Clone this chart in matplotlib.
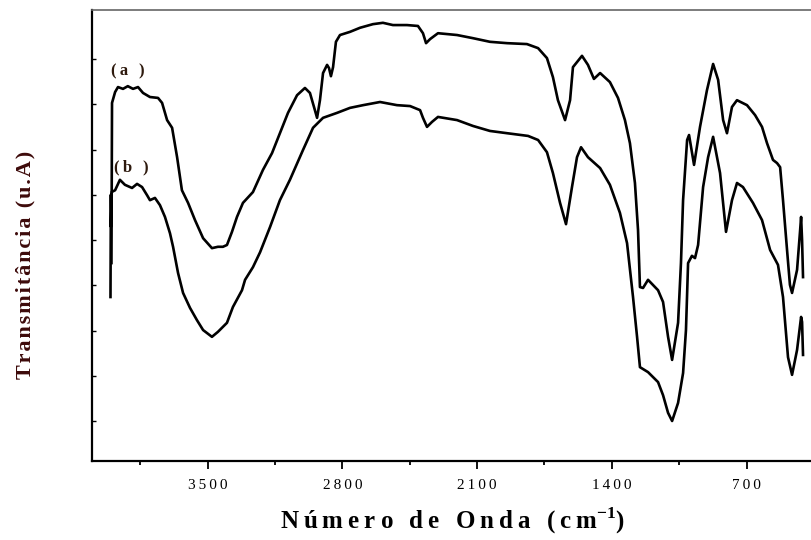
import matplotlib
matplotlib.use("Agg")
import matplotlib.pyplot as plt
from matplotlib.ticker import MultipleLocator, FixedLocator

plt.rcParams['font.family'] = ['Liberation Serif', 'DejaVu Serif']
plt.rcParams['mathtext.fontset'] = 'custom'
plt.rcParams['mathtext.rm'] = 'Liberation Serif'
plt.rcParams['mathtext.bf'] = 'Liberation Serif:bold'

# Spectrum (a): wavenumber (cm-1) and transmittance (u.A)
wn_a = [3999, 3996, 3980, 3965, 3939, 3914, 3887, 3861, 3835, 3799, 3757, 3736,
        3710, 3684, 3658, 3633, 3601, 3565, 3523, 3477, 3446, 3420, 3399, 3373,
        3347, 3316, 3264, 3212, 3165, 3124, 3082, 3035, 2994, 2968, 2947, 2931,
        2916, 2900, 2879, 2869, 2859, 2848, 2833, 2812, 2760, 2708, 2641, 2589,
        2537, 2464, 2407, 2381, 2365, 2344, 2303, 2204, 2121, 2033, 1944, 1841,
        1783, 1737, 1706, 1680, 1643, 1617, 1602, 1555, 1524, 1493, 1461, 1410,
        1368, 1332, 1306, 1280, 1264, 1254, 1238, 1212, 1160, 1134, 1108, 1087,
        1056, 1041, 1030, 1009, 999, 973, 942, 906, 874, 848, 822, 802, 776, 750,
        698, 656, 620, 594, 563, 542, 526, 511, 490, 475, 464, 438, 422, 417,
        412, 407]
tr_a = [3.49, 7.03, 7.27, 7.38, 7.34, 7.40, 7.34, 7.38, 7.25, 7.16, 7.14, 7.03,
        6.65, 6.48, 5.83, 5.10, 4.82, 4.44, 4.04, 3.82, 3.85, 3.85, 3.89, 4.18,
        4.51, 4.82, 5.06, 5.55, 5.92, 6.36, 6.81, 7.20, 7.36, 7.25, 6.94, 6.70,
        7.09, 7.69, 7.87, 7.80, 7.62, 7.82, 8.38, 8.53, 8.60, 8.69, 8.77, 8.80,
        8.75, 8.75, 8.73, 8.57, 8.35, 8.44, 8.57, 8.53, 8.46, 8.38, 8.35, 8.33,
        8.24, 8.02, 7.60, 7.09, 6.65, 7.09, 7.82, 8.07, 7.87, 7.56, 7.69, 7.49,
        7.14, 6.65, 6.14, 5.26, 4.22, 2.96, 2.94, 3.12, 2.89, 2.63, 1.86, 1.35,
        2.17, 3.49, 4.88, 6.21, 6.32, 5.66, 6.50, 7.31, 7.89, 7.54, 6.65, 6.36,
        6.94, 7.09, 6.98, 6.76, 6.50, 6.14, 5.77, 5.70, 5.61, 4.88, 3.78, 3.01,
        2.83, 3.34, 4.22, 4.51, 4.00, 3.18]

# Spectrum (b)
wn_b = [4004, 4002, 4001, 3998, 3980, 3955, 3929, 3892, 3866, 3840, 3814, 3799,
        3773, 3747, 3721, 3695, 3679, 3653, 3627, 3591, 3555, 3523, 3477, 3446,
        3399, 3368, 3321, 3305, 3264, 3227, 3175, 3124, 3072, 3004, 2952, 2900,
        2827, 2760, 2692, 2604, 2516, 2448, 2396, 2381, 2360, 2334, 2303, 2204,
        2121, 2033, 1944, 1835, 1783, 1737, 1706, 1669, 1638, 1607, 1581, 1560,
        1524, 1461, 1410, 1358, 1321, 1290, 1269, 1254, 1212, 1160, 1134, 1108,
        1087, 1056, 1030, 1015, 1004, 984, 968, 952, 926, 900, 874, 838, 807,
        776, 750, 719, 667, 620, 578, 537, 511, 485, 464, 438, 417, 412, 407]
tr_b = [2.74, 5.00, 4.29, 5.06, 5.10, 5.33, 5.22, 5.15, 5.24, 5.17, 4.99, 4.88,
        4.93, 4.77, 4.51, 4.15, 3.85, 3.27, 2.83, 2.50, 2.23, 2.01, 1.86, 1.97,
        2.17, 2.52, 2.89, 3.12, 3.40, 3.73, 4.29, 4.88, 5.33, 5.99, 6.48, 6.70,
        6.81, 6.92, 6.98, 7.05, 6.98, 6.96, 6.87, 6.70, 6.50, 6.61, 6.72, 6.65,
        6.52, 6.41, 6.36, 6.30, 6.21, 5.94, 5.48, 4.82, 4.35, 5.17, 5.83, 6.05,
        5.83, 5.59, 5.22, 4.60, 3.93, 2.74, 1.86, 1.19, 1.08, 0.86, 0.57, 0.18,
        0.00, 0.40, 1.06, 2.01, 3.49, 3.65, 3.60, 3.89, 5.17, 5.83, 6.28, 5.48,
        4.18, 4.88, 5.26, 5.17, 4.82, 4.44, 3.78, 3.45, 2.74, 1.41, 1.02, 1.57,
        2.30, 2.19, 1.46]

x_ticks = [3500, 2800, 2100, 1400, 700]
x_ticklabels = ["3500", "2800", "2100", "1400", "700"]
y_ticks = [0, 1, 2, 3, 4, 5, 6, 7, 8]


def spread(s, gap="\u2009"):
    return gap.join(s)


fig = plt.figure(figsize=(8.12, 5.40), dpi=100)
ax = fig.add_axes([92 / 812, 1 - 461 / 540, 722 / 812, 451 / 540])

ax.plot(wn_a, tr_a, color="black", lw=1.9, solid_joinstyle="round")
ax.plot(wn_b, tr_b, color="black", lw=1.9, solid_joinstyle="round")

ax.set_xlim(4100, 350)
ax.set_ylim(-0.884, 9.083)

ax.xaxis.set_major_locator(FixedLocator(x_ticks))
ax.set_xticklabels([spread(t) for t in x_ticklabels])
ax.xaxis.set_minor_locator(MultipleLocator(350))
ax.yaxis.set_major_locator(FixedLocator(y_ticks))

ax.tick_params(axis="x", which="major", direction="out", length=6, width=1.3,
               labelsize=11, pad=7, colors="black")
ax.tick_params(axis="x", which="minor", direction="out", length=3, width=1.3)
ax.tick_params(axis="y", direction="in", length=3, width=1.0, labelleft=False)

for side in ["left", "bottom"]:
    ax.spines[side].set_linewidth(1.6)
ax.spines["top"].set_linewidth(1.2)
ax.spines["top"].set_color("#666666")
ax.spines["right"].set_visible(False)

ax.text(3913, 7.73, spread("(a )"), fontsize=12, fontweight="bold",
        color="#2e1a0e", ha="center", va="center")
ax.text(3897, 5.61, spread("(b )"), fontsize=12, fontweight="bold",
        color="#2e1a0e", ha="center", va="center")

ax.set_xlabel(spread("Número de Onda (cm") + r"$^{\mathbf{-1}}$" + ")",
              fontsize=18, fontweight="bold", labelpad=10)
fig.text(25 / 812, 1 - 265 / 540, spread("Transmitância (u.A)", "\u200a"),
         rotation=90, fontsize=16, fontweight="bold", color="#3d0a0a",
         ha="center", va="center")

fig.savefig("out.png", dpi=100)
